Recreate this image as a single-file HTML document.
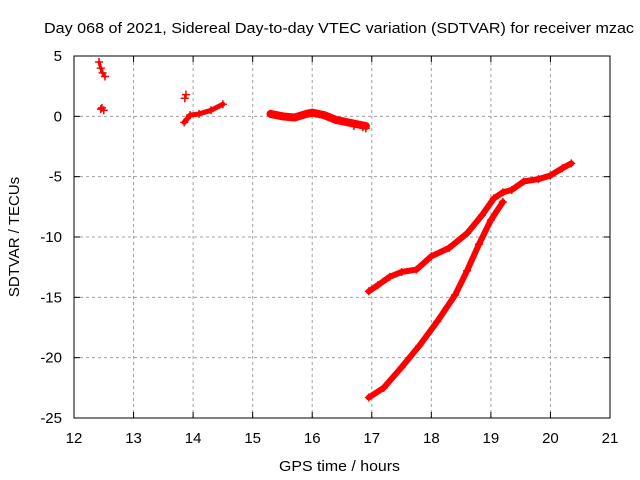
<!DOCTYPE html>
<html><head><meta charset="utf-8"><style>
body{margin:0;background:#fff;}
svg{display:block;font-family:"Liberation Sans",sans-serif;}
</style></head><body>
<svg id="c" width="640" height="480">
<rect width="640" height="480" fill="#fff"/>
<g id="grid"></g><g id="series"></g><g id="axes"></g>
<text x="44" y="33" font-size="15" textLength="590" lengthAdjust="spacingAndGlyphs">Day 068 of 2021, Sidereal Day-to-day VTEC variation (SDTVAR) for receiver mzac</text>
<text x="279" y="471" font-size="15" textLength="121" lengthAdjust="spacingAndGlyphs">GPS time / hours</text>
<text transform="translate(19,237) rotate(-90)" font-size="15" text-anchor="middle">SDTVAR / TECUs</text>
</svg>
<script>
const xTicks=[12,13,14,15,16,17,18,19,20,21];
const yTicks=[5,0,-5,-10,-15,-20,-25];
const seriesA_x=[16.95,17.2,17.5,17.8,18.1,18.4,18.6,18.8,19.0,19.2];
const seriesA_y=[-23.3,-22.5,-20.8,-19,-17,-14.8,-12.8,-10.6,-8.6,-7.1];
const seriesB_x=[16.95,17.1,17.3,17.5,17.75,18.0,18.3,18.6,18.85,19.05,19.2,19.35,19.55,19.8,20.0,20.2,20.35];
const seriesB_y=[-14.5,-14,-13.3,-12.9,-12.7,-11.6,-10.9,-9.7,-8.2,-6.8,-6.3,-6.1,-5.4,-5.2,-4.9,-4.3,-3.9];
const seriesC_x=[15.3,15.5,15.7,15.9,16.0,16.2,16.4,16.6,16.9];
const seriesC_y=[0.2,0.0,-0.1,0.2,0.3,0.1,-0.3,-0.5,-0.8];
const seriesD_x=[13.85,13.95,14.1,14.3,14.5];
const seriesD_y=[-0.5,0.1,0.2,0.5,1.0];
const seriesE_x=[12.42,12.45,12.48,12.52];
const seriesE_y=[4.5,4.0,3.6,3.3];
const extra_x=[13.88,13.86,12.45,12.5,12.47,16.9,16.85,16.7];
const extra_y=[1.8,1.5,0.6,0.5,0.7,-1.0,-0.9,-0.8];
const L=74,R=610,T=56,B=418;
const X=v=>L+(v-12)/9*(R-L);
const Y=v=>T+(5-v)/30*(B-T);
const NS="http://www.w3.org/2000/svg";
function mk(t,a,p){const e=document.createElementNS(NS,t);for(const k in a)e.setAttribute(k,a[k]);p.appendChild(e);return e;}
const grid=document.getElementById('grid'),axes=document.getElementById('axes'),ser=document.getElementById('series');
xTicks.forEach(v=>{
 if(v>12&&v<21){const g=mk('line',{x1:X(v),x2:X(v),y1:T,y2:B,stroke:'#a0a0a0','stroke-dasharray':'3,3'},grid);
 
 }
 const t=mk('text',{x:X(v),y:B+25,'font-size':15,'text-anchor':'middle'},axes);t.textContent=v;
 
 
 mk('line',{x1:X(v),x2:X(v),y1:B,y2:B-6,stroke:'#000'},axes);
 mk('line',{x1:X(v),x2:X(v),y1:T,y2:T+6,stroke:'#000'},axes);
});
yTicks.forEach(v=>{
 if(v<5&&v>-25){const g=mk('line',{x1:L,x2:R,y1:Y(v),y2:Y(v),stroke:'#a0a0a0','stroke-dasharray':'3,3'},grid);
 
 }
 const t=mk('text',{x:L-12,y:Y(v)+5,'font-size':15,'text-anchor':'end'},axes);t.textContent=v;
 
 
 mk('line',{x1:L,x2:L+6,y1:Y(v),y2:Y(v),stroke:'#000'},axes);
 mk('line',{x1:R,x2:R-6,y1:Y(v),y2:Y(v),stroke:'#000'},axes);
});
const fr=mk('rect',{x:L,y:T,width:R-L,height:B-T,fill:'none',stroke:'#000'},axes);


function band(xs,ys,name,w){
 const pts=xs.map((x,i)=>X(x)+','+Y(ys[i])).join(' ');
 const p=mk('polyline',{points:pts,fill:'none',stroke:'#ff0000','stroke-width':w,'stroke-linejoin':'round','stroke-linecap':'round'},ser);
 
 
 xs.forEach((x,i)=>plus(x,ys[i]));
}
function plus(x,y){
 const cx=X(x),cy=Y(y);
 mk('path',{d:`M${cx-4},${cy}H${cx+4}M${cx},${cy-4}V${cy+4}`,stroke:'#ff0000','stroke-width':1.5},ser);
}
band(seriesA_x,seriesA_y,'series-a',6);
band(seriesB_x,seriesB_y,'series-b',6);
band(seriesC_x,seriesC_y,'series-c',8);
band(seriesD_x,seriesD_y,'series-d',5);
band(seriesE_x,seriesE_y,'series-e',3);
extra_x.forEach((x,i)=>plus(x,extra_y[i]));
</script>
</body></html>
